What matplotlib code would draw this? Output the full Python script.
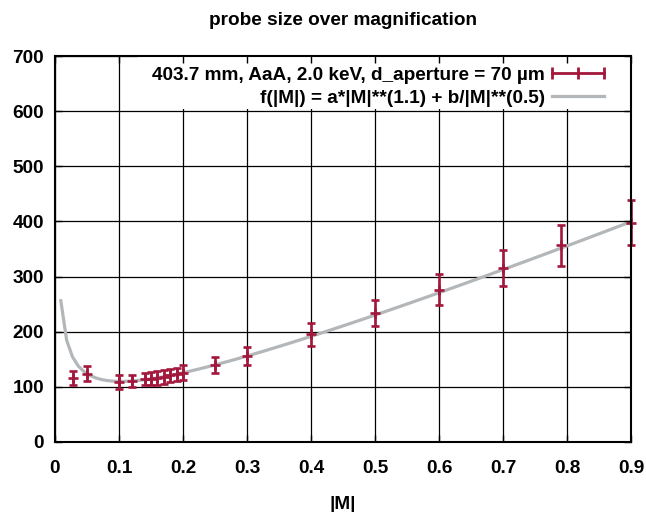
import numpy as np
import matplotlib
matplotlib.use("Agg")
import matplotlib.pyplot as plt
from matplotlib.lines import Line2D
from matplotlib.patches import Rectangle

# data
magnification = [0.028, 0.05, 0.10, 0.12, 0.14, 0.15, 0.16, 0.17, 0.18, 0.19, 0.20,
                 0.25, 0.30, 0.40, 0.50, 0.60, 0.70, 0.79, 0.90]
probe_size = [116, 124, 109, 111, 114, 115, 116, 118, 121, 123, 126,
              140, 156, 195, 234, 276, 316, 357, 398]
probe_err = [13, 14, 12, 11, 11, 12, 12, 12, 12, 12, 13,
             14, 16, 20, 24, 28, 33, 37, 41]

# fit parameters of f(|M|) = a*|M|**1.1 + b/|M|**0.5
fit_a = 420.0
fit_b = 24.2

x_ticks = [0, 0.1, 0.2, 0.3, 0.4, 0.5, 0.6, 0.7, 0.8, 0.9]
x_ticklabels = ["0", "0.1", "0.2", "0.3", "0.4", "0.5", "0.6", "0.7", "0.8", "0.9"]
y_ticks = [0, 100, 200, 300, 400, 500, 600, 700]

label_data = "403.7 mm, AaA, 2.0 keV, d_aperture = 70 µm"
label_fit = "f(|M|) = a*|M|**(1.1) + b/|M|**(0.5)"

RED = "#a3173c"
GRAY = "#b3b7ba"

plt.rcParams['font.family'] = ['Liberation Sans', 'DejaVu Sans']
plt.rcParams['font.weight'] = 'bold'
FS = 13.7

W, H = 646, 512
L, R, T, B = 55, 631, 56, 442
fig = plt.figure(figsize=(W / 100, H / 100), dpi=100)
ax = fig.add_axes([L / W, 1 - B / H, (R - L) / W, (B - T) / H])

# grid lines
for xv in x_ticks:
    ax.axvline(xv, color='black', lw=0.9, zorder=0.5)
for yv in y_ticks:
    ax.axhline(yv, color='black', lw=0.9, zorder=0.5)

# opaque key area (hides the grid behind the legend, as in the reference)
key_left = (138 - L) / (R - L)
key_bottom = (B - 109) / (B - T)
ax.add_patch(Rectangle((key_left, key_bottom), 1 - key_left, 1 - key_bottom,
                       transform=ax.transAxes, facecolor='white', edgecolor='none',
                       zorder=1))

xs = np.linspace(0, 0.9, 100)[1:]
ax.plot(xs, fit_a * xs**1.1 + fit_b / xs**0.5, color=GRAY, lw=2.3, zorder=3)

eb = ax.errorbar(magnification, probe_size, yerr=probe_err, fmt='+', color=RED,
                 ms=6.5, mew=1.9, elinewidth=1.9, capsize=2.6, capthick=1.9, zorder=4)
for art in [eb[0], *eb[1], *eb[2]]:
    art.set_clip_on(False)

ax.set_xlim(0, 0.9)
ax.set_ylim(0, 700)
ax.set_xticks(x_ticks)
ax.set_xticklabels(x_ticklabels)
ax.set_yticks(y_ticks)
ax.tick_params(direction='in', top=True, right=True, length=5, width=1,
               labelsize=FS)
ax.tick_params(axis='x', pad=13.3)
ax.tick_params(axis='y', pad=8)
for lab in ax.get_xticklabels() + ax.get_yticklabels():
    lab.set_fontweight('bold')
for s in ax.spines.values():
    s.set_linewidth(1.5)
    s.set_zorder(6)
ax.xaxis.set_zorder(6)
ax.yaxis.set_zorder(6)

ax.set_title("probe size over magnification", fontsize=FS, fontweight='bold', pad=22)
ax.set_xlabel("|M|", fontsize=FS, fontweight='bold', labelpad=13)

h_data = Line2D([], [], color=RED, lw=2.0, marker='|', ms=8, mew=2.0)
h_fit = Line2D([], [], color=GRAY, lw=2.3)
leg = ax.legend([h_data, h_fit], [label_data, label_fit], loc='upper right',
                bbox_to_anchor=(1 - 12.5 / (R - L), 1 - 1.5 / (B - T)),
                markerfirst=False, numpoints=3, handlelength=3.34, handletextpad=0.05,
                frameon=False, borderaxespad=0.1, labelspacing=0.3, borderpad=0.38,
                prop={'weight': 'bold', 'size': FS})
leg.set_zorder(5)

fig.savefig("out.png", dpi=100)
